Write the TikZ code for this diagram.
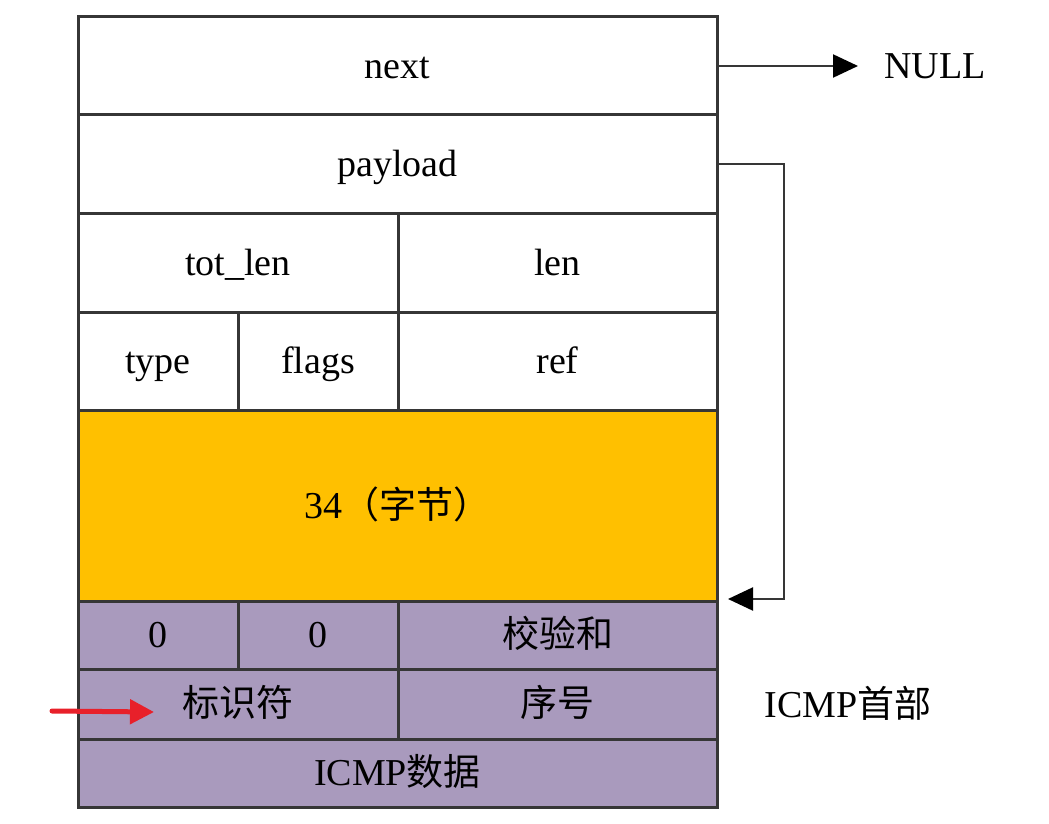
\documentclass[tikz,border=0pt]{standalone}
\usepackage{fontspec}
\setmainfont{Liberation Serif}
\newfontfamily\cjk{Noto Sans CJK SC}
\usetikzlibrary{arrows.meta}
\definecolor{gold}{HTML}{FFC000}
\definecolor{lilac}{HTML}{A99ABD}
\definecolor{edge}{HTML}{363636}
\definecolor{redarrow}{HTML}{E8202A}
\newcommand{\cjkt}[1]{{\cjk\fontsize{37}{42}\selectfont #1}}
\tikzset{
  cell/.style={draw=edge, line width=3pt, anchor=north west, inner sep=0pt, outer sep=0pt,
    font=\fontsize{38}{42}\selectfont, text height=30pt, text depth=5pt},
  conn/.style={draw=edge, line width=2.2pt, -{Triangle[length=25pt,width=23pt,color=black]}},
  lbl/.style={font=\fontsize{38}{42}\selectfont, inner sep=0pt, text height=30pt, text depth=5pt}
}
\begin{document}
\begin{tikzpicture}[x=1pt,y=-1pt]
\useasboundingbox (0,0) rectangle (1049,824);
% rows
\node[cell, minimum width=639pt, minimum height=98pt] (next) at (78,17) {next};
\node[cell, minimum width=639pt, minimum height=98pt] (payload) at (78,115) {payload};
\node[cell, minimum width=320pt, minimum height=99pt] (totlen) at (78,213) {tot\_len};
\node[cell, minimum width=319pt, minimum height=99pt] (len) at (398,213) {len};
\node[cell, minimum width=160pt, minimum height=98pt] (type) at (78,312) {type};
\node[cell, minimum width=160pt, minimum height=98pt] (flags) at (238,312) {flags};
\node[cell, minimum width=319pt, minimum height=98pt] (ref) at (398,312) {ref};
\node[cell, fill=gold, minimum width=639pt, minimum height=191pt] (bytes) at (78,410) {34\cjkt{（字节）}};
\node[cell, fill=lilac, minimum width=160pt, minimum height=68pt] (za) at (78,601) {0};
\node[cell, fill=lilac, minimum width=160pt, minimum height=68pt] (zb) at (238,601) {0};
\node[cell, fill=lilac, minimum width=319pt, minimum height=68pt] (cks) at (398,601) {\cjkt{校验和}};
\node[cell, fill=lilac, minimum width=320pt, minimum height=70pt] (ident) at (78,669) {\cjkt{标识符}};
\node[cell, fill=lilac, minimum width=319pt, minimum height=70pt] (seq) at (398,669) {\cjkt{序号}};
\node[cell, fill=lilac, minimum width=639pt, minimum height=68pt] (data) at (78,739) {ICMP\cjkt{数据}};
% labels
\node[lbl] (null) at (935,66) {NULL};
\node[lbl] (hdr) at (848,705) {ICMP\cjkt{首部}};
% connectors
\coordinate (nullend) at (858,66);
\draw[conn] (next.east) -- (nullend);
\coordinate (bend1) at (784,164);
\coordinate (bend2) at (784,599);
\coordinate (ret) at (728,599);
\draw[conn] (payload.east) -- (bend1) -- (bend2) -- (ret);
\coordinate (rstart) at (52,711);
\coordinate (rend) at (154,712);
\draw[redarrow, line width=5pt, line cap=round, -{Triangle[length=24pt,width=24pt]}] (rstart) -- (rend);
\end{tikzpicture}
\end{document}
